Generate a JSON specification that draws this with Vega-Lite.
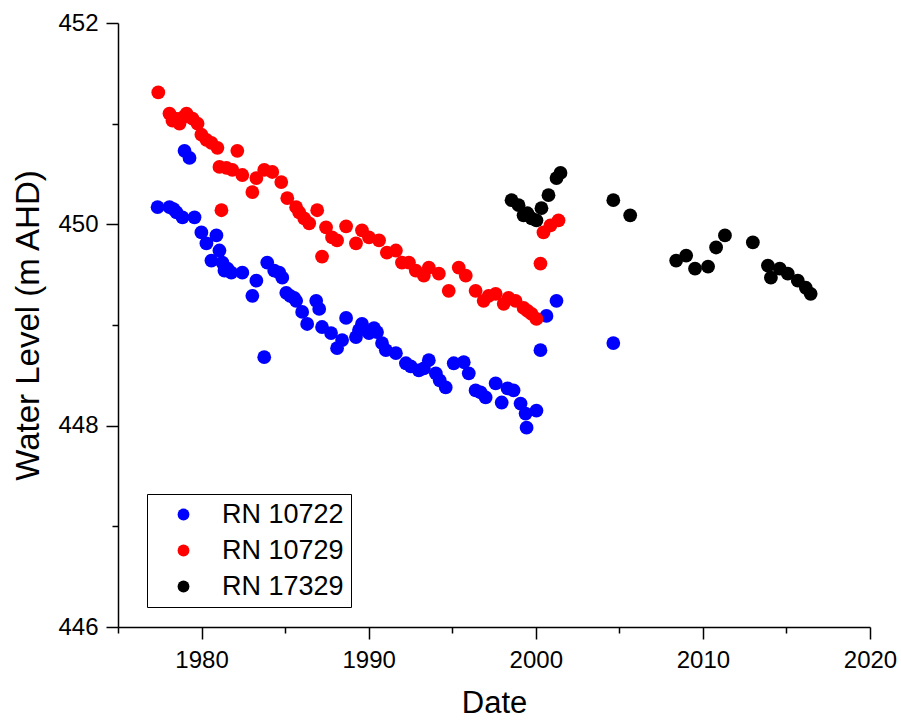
{
  "$schema": "https://vega.github.io/schema/vega-lite/v6.json",
  "width": 752,
  "height": 604,
  "autosize": {"type": "none"},
  "padding": {"left": 118, "top": 23, "right": 31, "bottom": 95},
  "background": "white",
  "config": {
    "view": {"stroke": null},
    "font": "Liberation Sans"
  },
  "datasets": {
    "wells": [
      {"well": "RN 10722", "year": 1977.37, "level": 450.17},
      {"well": "RN 10722", "year": 1978.08, "level": 450.17},
      {"well": "RN 10722", "year": 1978.32, "level": 450.15},
      {"well": "RN 10722", "year": 1978.50, "level": 450.12},
      {"well": "RN 10722", "year": 1978.86, "level": 450.07},
      {"well": "RN 10722", "year": 1978.98, "level": 450.73},
      {"well": "RN 10722", "year": 1979.28, "level": 450.66},
      {"well": "RN 10722", "year": 1979.58, "level": 450.07},
      {"well": "RN 10722", "year": 1979.99, "level": 449.92},
      {"well": "RN 10722", "year": 1980.29, "level": 449.81},
      {"well": "RN 10722", "year": 1980.59, "level": 449.64},
      {"well": "RN 10722", "year": 1980.89, "level": 449.89},
      {"well": "RN 10722", "year": 1981.07, "level": 449.74},
      {"well": "RN 10722", "year": 1981.25, "level": 449.62},
      {"well": "RN 10722", "year": 1981.37, "level": 449.54},
      {"well": "RN 10722", "year": 1981.55, "level": 449.56},
      {"well": "RN 10722", "year": 1981.78, "level": 449.52},
      {"well": "RN 10722", "year": 1982.44, "level": 449.52},
      {"well": "RN 10722", "year": 1983.04, "level": 449.29},
      {"well": "RN 10722", "year": 1983.28, "level": 449.44},
      {"well": "RN 10722", "year": 1983.75, "level": 448.68},
      {"well": "RN 10722", "year": 1983.93, "level": 449.62},
      {"well": "RN 10722", "year": 1984.35, "level": 449.54},
      {"well": "RN 10722", "year": 1984.65, "level": 449.52},
      {"well": "RN 10722", "year": 1984.83, "level": 449.47},
      {"well": "RN 10722", "year": 1985.07, "level": 449.32},
      {"well": "RN 10722", "year": 1985.30, "level": 449.29},
      {"well": "RN 10722", "year": 1985.54, "level": 449.27},
      {"well": "RN 10722", "year": 1985.66, "level": 449.24},
      {"well": "RN 10722", "year": 1986.02, "level": 449.13},
      {"well": "RN 10722", "year": 1986.32, "level": 449.01},
      {"well": "RN 10722", "year": 1986.86, "level": 449.24},
      {"well": "RN 10722", "year": 1987.04, "level": 449.16},
      {"well": "RN 10722", "year": 1987.21, "level": 448.98},
      {"well": "RN 10722", "year": 1987.75, "level": 448.92},
      {"well": "RN 10722", "year": 1988.11, "level": 448.77},
      {"well": "RN 10722", "year": 1988.41, "level": 448.85},
      {"well": "RN 10722", "year": 1988.65, "level": 449.07},
      {"well": "RN 10722", "year": 1989.24, "level": 448.88},
      {"well": "RN 10722", "year": 1989.42, "level": 448.95},
      {"well": "RN 10722", "year": 1989.60, "level": 449.01},
      {"well": "RN 10722", "year": 1990.02, "level": 448.92},
      {"well": "RN 10722", "year": 1990.32, "level": 448.97},
      {"well": "RN 10722", "year": 1990.50, "level": 448.93},
      {"well": "RN 10722", "year": 1990.80, "level": 448.82},
      {"well": "RN 10722", "year": 1991.03, "level": 448.75},
      {"well": "RN 10722", "year": 1991.63, "level": 448.72},
      {"well": "RN 10722", "year": 1992.23, "level": 448.62},
      {"well": "RN 10722", "year": 1992.52, "level": 448.59},
      {"well": "RN 10722", "year": 1993.00, "level": 448.55},
      {"well": "RN 10722", "year": 1993.30, "level": 448.57},
      {"well": "RN 10722", "year": 1993.60, "level": 448.65},
      {"well": "RN 10722", "year": 1994.02, "level": 448.52},
      {"well": "RN 10722", "year": 1994.25, "level": 448.45},
      {"well": "RN 10722", "year": 1994.61, "level": 448.38},
      {"well": "RN 10722", "year": 1995.09, "level": 448.62},
      {"well": "RN 10722", "year": 1995.69, "level": 448.63},
      {"well": "RN 10722", "year": 1995.99, "level": 448.52},
      {"well": "RN 10722", "year": 1996.40, "level": 448.35},
      {"well": "RN 10722", "year": 1996.70, "level": 448.33},
      {"well": "RN 10722", "year": 1997.00, "level": 448.28},
      {"well": "RN 10722", "year": 1997.60, "level": 448.42},
      {"well": "RN 10722", "year": 1997.96, "level": 448.23},
      {"well": "RN 10722", "year": 1998.31, "level": 448.37},
      {"well": "RN 10722", "year": 1998.67, "level": 448.35},
      {"well": "RN 10722", "year": 1999.09, "level": 448.22},
      {"well": "RN 10722", "year": 1999.39, "level": 448.12},
      {"well": "RN 10722", "year": 1999.45, "level": 447.98},
      {"well": "RN 10722", "year": 2000.04, "level": 448.15},
      {"well": "RN 10722", "year": 2000.28, "level": 448.75},
      {"well": "RN 10722", "year": 2000.64, "level": 449.09},
      {"well": "RN 10722", "year": 2001.24, "level": 449.24},
      {"well": "RN 10722", "year": 2004.64, "level": 448.82},
      {"well": "RN 10729", "year": 1977.41, "level": 451.31},
      {"well": "RN 10729", "year": 1978.08, "level": 451.10},
      {"well": "RN 10729", "year": 1978.26, "level": 451.03},
      {"well": "RN 10729", "year": 1978.44, "level": 451.05},
      {"well": "RN 10729", "year": 1978.68, "level": 451.00},
      {"well": "RN 10729", "year": 1978.86, "level": 451.06},
      {"well": "RN 10729", "year": 1979.10, "level": 451.10},
      {"well": "RN 10729", "year": 1979.46, "level": 451.05},
      {"well": "RN 10729", "year": 1979.76, "level": 451.00},
      {"well": "RN 10729", "year": 1979.99, "level": 450.89},
      {"well": "RN 10729", "year": 1980.29, "level": 450.84},
      {"well": "RN 10729", "year": 1980.59, "level": 450.81},
      {"well": "RN 10729", "year": 1980.95, "level": 450.76},
      {"well": "RN 10729", "year": 1981.07, "level": 450.57},
      {"well": "RN 10729", "year": 1981.19, "level": 450.14},
      {"well": "RN 10729", "year": 1981.49, "level": 450.56},
      {"well": "RN 10729", "year": 1981.84, "level": 450.54},
      {"well": "RN 10729", "year": 1982.14, "level": 450.73},
      {"well": "RN 10729", "year": 1982.44, "level": 450.49},
      {"well": "RN 10729", "year": 1983.04, "level": 450.32},
      {"well": "RN 10729", "year": 1983.28, "level": 450.46},
      {"well": "RN 10729", "year": 1983.75, "level": 450.54},
      {"well": "RN 10729", "year": 1984.23, "level": 450.52},
      {"well": "RN 10729", "year": 1984.77, "level": 450.42},
      {"well": "RN 10729", "year": 1985.13, "level": 450.26},
      {"well": "RN 10729", "year": 1985.66, "level": 450.17},
      {"well": "RN 10729", "year": 1985.84, "level": 450.12},
      {"well": "RN 10729", "year": 1986.14, "level": 450.06},
      {"well": "RN 10729", "year": 1986.44, "level": 450.01},
      {"well": "RN 10729", "year": 1986.92, "level": 450.14},
      {"well": "RN 10729", "year": 1987.21, "level": 449.68},
      {"well": "RN 10729", "year": 1987.45, "level": 449.97},
      {"well": "RN 10729", "year": 1987.81, "level": 449.87},
      {"well": "RN 10729", "year": 1988.11, "level": 449.84},
      {"well": "RN 10729", "year": 1988.65, "level": 449.98},
      {"well": "RN 10729", "year": 1989.24, "level": 449.81},
      {"well": "RN 10729", "year": 1989.60, "level": 449.94},
      {"well": "RN 10729", "year": 1990.02, "level": 449.87},
      {"well": "RN 10729", "year": 1990.62, "level": 449.84},
      {"well": "RN 10729", "year": 1991.09, "level": 449.72},
      {"well": "RN 10729", "year": 1991.63, "level": 449.74},
      {"well": "RN 10729", "year": 1991.99, "level": 449.62},
      {"well": "RN 10729", "year": 1992.41, "level": 449.62},
      {"well": "RN 10729", "year": 1992.82, "level": 449.54},
      {"well": "RN 10729", "year": 1993.30, "level": 449.49},
      {"well": "RN 10729", "year": 1993.60, "level": 449.57},
      {"well": "RN 10729", "year": 1994.20, "level": 449.51},
      {"well": "RN 10729", "year": 1994.79, "level": 449.34},
      {"well": "RN 10729", "year": 1995.39, "level": 449.57},
      {"well": "RN 10729", "year": 1995.81, "level": 449.49},
      {"well": "RN 10729", "year": 1996.40, "level": 449.34},
      {"well": "RN 10729", "year": 1996.88, "level": 449.24},
      {"well": "RN 10729", "year": 1997.18, "level": 449.29},
      {"well": "RN 10729", "year": 1997.60, "level": 449.31},
      {"well": "RN 10729", "year": 1998.08, "level": 449.21},
      {"well": "RN 10729", "year": 1998.37, "level": 449.27},
      {"well": "RN 10729", "year": 1998.79, "level": 449.24},
      {"well": "RN 10729", "year": 1999.27, "level": 449.17},
      {"well": "RN 10729", "year": 1999.51, "level": 449.14},
      {"well": "RN 10729", "year": 1999.75, "level": 449.11},
      {"well": "RN 10729", "year": 2000.04, "level": 449.06},
      {"well": "RN 10729", "year": 2000.28, "level": 449.61},
      {"well": "RN 10729", "year": 2000.46, "level": 449.92},
      {"well": "RN 10729", "year": 2000.88, "level": 449.99},
      {"well": "RN 10729", "year": 2001.36, "level": 450.04},
      {"well": "RN 17329", "year": 1998.55, "level": 450.24},
      {"well": "RN 17329", "year": 1998.97, "level": 450.19},
      {"well": "RN 17329", "year": 1999.27, "level": 450.09},
      {"well": "RN 17329", "year": 1999.50, "level": 450.11},
      {"well": "RN 17329", "year": 1999.75, "level": 450.06},
      {"well": "RN 17329", "year": 2000.04, "level": 450.04},
      {"well": "RN 17329", "year": 2000.34, "level": 450.16},
      {"well": "RN 17329", "year": 2000.76, "level": 450.29},
      {"well": "RN 17329", "year": 2001.24, "level": 450.46},
      {"well": "RN 17329", "year": 2001.48, "level": 450.51},
      {"well": "RN 17329", "year": 2004.64, "level": 450.24},
      {"well": "RN 17329", "year": 2005.65, "level": 450.09},
      {"well": "RN 17329", "year": 2008.40, "level": 449.64},
      {"well": "RN 17329", "year": 2009.00, "level": 449.69},
      {"well": "RN 17329", "year": 2009.53, "level": 449.56},
      {"well": "RN 17329", "year": 2010.31, "level": 449.58},
      {"well": "RN 17329", "year": 2010.79, "level": 449.77},
      {"well": "RN 17329", "year": 2011.32, "level": 449.89},
      {"well": "RN 17329", "year": 2012.99, "level": 449.82},
      {"well": "RN 17329", "year": 2013.89, "level": 449.59},
      {"well": "RN 17329", "year": 2014.07, "level": 449.47},
      {"well": "RN 17329", "year": 2014.60, "level": 449.56},
      {"well": "RN 17329", "year": 2015.08, "level": 449.51},
      {"well": "RN 17329", "year": 2015.68, "level": 449.44},
      {"well": "RN 17329", "year": 2016.16, "level": 449.37},
      {"well": "RN 17329", "year": 2016.45, "level": 449.31}
    ]
  },
  "data": {"name": "wells"},
  "mark": {"type": "circle", "size": 190, "opacity": 1},
  "encoding": {
    "x": {
      "field": "year",
      "type": "quantitative",
      "scale": {"domain": [1975, 2020], "nice": false, "zero": false},
      "axis": {
        "title": "Date",
        "values": [1975, 1980, 1985, 1990, 1995, 2000, 2005, 2010, 2015, 2020],
        "labelExpr": "datum.value % 10 === 0 ? datum.value : ''",
        "grid": false,
        "domainColor": "black",
        "domainWidth": 1.5,
        "tickColor": "black",
        "tickWidth": 1.5,
        "tickSize": {"condition": {"test": "datum.value % 10 === 0", "value": 12}, "value": 6},
        "labelFontSize": 24,
        "labelColor": "black",
        "labelPadding": 9,
        "labelFlush": false,
        "titleFontSize": 31,
        "titleFontWeight": "normal",
        "titleColor": "black",
        "titlePadding": 16
      }
    },
    "y": {
      "field": "level",
      "type": "quantitative",
      "scale": {"domain": [446, 452], "nice": false, "zero": false},
      "axis": {
        "title": "Water Level (m AHD)",
        "values": [446, 447, 448, 449, 450, 451, 452],
        "labelExpr": "datum.value % 2 === 0 ? datum.value : ''",
        "grid": false,
        "domainColor": "black",
        "domainWidth": 1.5,
        "tickColor": "black",
        "tickWidth": 1.5,
        "tickSize": {"condition": {"test": "datum.value % 2 === 0", "value": 12}, "value": 6},
        "labelFontSize": 24,
        "labelColor": "black",
        "labelPadding": 8,
        "labelFlush": false,
        "titleFontSize": 33,
        "titleFontWeight": "normal",
        "titleColor": "black",
        "titlePadding": 12
      }
    },
    "color": {
      "field": "well",
      "type": "nominal",
      "scale": {"domain": ["RN 10722", "RN 10729", "RN 17329"], "range": ["#0000ff", "#ff0000", "#000000"]},
      "legend": {
        "title": null,
        "orient": "none",
        "legendX": 29,
        "legendY": 471,
        "strokeColor": "black",
        "fillColor": "white",
        "padding": 7,
        "symbolType": "circle",
        "symbolSize": 140,
        "symbolStrokeWidth": 0,
        "symbolOpacity": 1,
        "symbolOffset": 16,
        "labelOffset": 25,
        "labelFontSize": 27,
        "labelColor": "black",
        "rowPadding": 8
      }
    }
  }
}
